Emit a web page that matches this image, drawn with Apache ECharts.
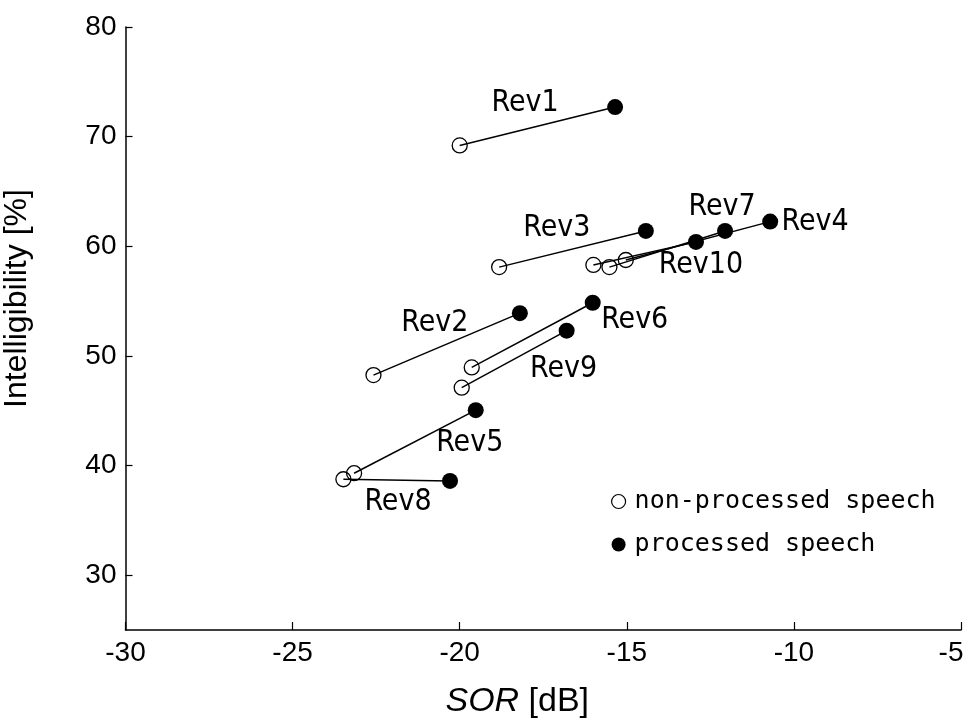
<!DOCTYPE html>
<html>
<head>
<meta charset="utf-8">
<script src="https://cdn.jsdelivr.net/npm/echarts@6/dist/echarts.min.js"></script>
<style>html,body{margin:0;padding:0;background:#fff}#c{width:968px;height:727px}</style>
</head>
<body>
<div id="c"></div>
<script>
var revNames = ['Rev1','Rev2','Rev3','Rev4','Rev5','Rev6','Rev7','Rev8','Rev9','Rev10'];
var sorNonProcessed = [-20.0, -22.58, -18.82, -15.03, -23.16, -19.64, -15.52, -23.48, -19.94, -16.0];
var intNonProcessed = [69.2, 48.25, 58.1, 58.75, 39.3, 48.95, 58.1, 38.75, 47.1, 58.3];
var sorProcessed = [-15.35, -18.2, -14.43, -10.71, -19.52, -16.02, -12.06, -20.29, -16.8, -12.93];
var intProcessed = [72.7, 53.9, 61.4, 62.25, 45.05, 54.85, 61.4, 38.6, 52.3, 60.4];
var xTicks = [-30, -25, -20, -15, -10, -5];
var yTicks = [30, 40, 50, 60, 70, 80];
var legendNames = ['non-processed speech', 'processed speech'];

// label placement (pixel offsets from processed point)
var labelOffsets = [[-90,-4],[-85,10],[-89,-3],[45,1],[-6,33],[42,17],[-3,-24],[-52,21],[-3,39],[5,23]];

var labelFont = 'Liberation Sans Narrow, DejaVu Sans Condensed, Arial Narrow, sans-serif';
var chart = echarts.init(document.getElementById('c'));
var series = [];
revNames.forEach(function(n, i){
  series.push({
    type: 'line', name: n + ' link', silent: true, z: 3,
    data: [[sorNonProcessed[i], intNonProcessed[i]], [sorProcessed[i], intProcessed[i]]],
    symbol: 'none', lineStyle: {color: '#000', width: 1.5}, animation: false
  });
});
series.push({
  type: 'scatter', name: legendNames[0], z: 4, symbol: 'circle', symbolSize: 15,
  itemStyle: {color: 'rgba(0,0,0,0)', borderColor: '#000', borderWidth: 1.3, opacity: 1},
  data: sorNonProcessed.map(function(x, i){ return [x, intNonProcessed[i]]; }),
  animation: false
});
series.push({
  type: 'scatter', name: legendNames[1], z: 5, symbol: 'circle', symbolSize: 16,
  itemStyle: {color: '#000', opacity: 1},
  data: sorProcessed.map(function(x, i){
    return {value: [x, intProcessed[i]], label: {show: true, position: 'inside', offset: labelOffsets[i], formatter: revNames[i],
      color: '#000', textBorderWidth: 0, fontFamily: labelFont, fontSize: 30}};
  }),
  label: {color: '#000', fontFamily: labelFont, fontSize: 30, textBorderWidth: 0},
  animation: false
});

var tickFont = 'Liberation Sans, Arial, sans-serif';
chart.setOption({
  backgroundColor: '#fff',
  animation: false,
  grid: {left: 125.5, right: 7, top: 27, bottom: 97, containLabel: false, outerBoundsMode: 'none'},
  legend: {
    data: [
      {name: legendNames[0], icon: 'circle', itemStyle: {color: 'rgba(0,0,0,0)', borderColor: '#000', borderWidth: 1.2}},
      {name: legendNames[1], icon: 'circle', itemStyle: {color: '#000'}}
    ],
    orient: 'vertical', left: 606, top: 484, itemWidth: 14, itemHeight: 14, itemGap: 18,
    textStyle: {fontFamily: 'DejaVu Sans Mono', fontSize: 25, color: '#000', padding: [0,0,0,4]},
    selectedMode: false
  },
  xAxis: {
    type: 'value', min: xTicks[0], max: xTicks[xTicks.length-1], interval: 5,
    name: '{i|SOR} [dB]', nameLocation: 'middle', nameGap: 55,
    nameTextStyle: {fontFamily: tickFont, fontSize: 34, color: '#000', padding: [0,52,0,0],
      rich: {i: {fontStyle: 'italic', fontFamily: tickFont, fontSize: 34, color: '#000'}}},
    axisLine: {show: true, onZero: false, lineStyle: {color: '#000', width: 1.5}},
    axisTick: {show: true, inside: true, length: 8, lineStyle: {color: '#000', width: 1.2}},
    axisLabel: {fontFamily: tickFont, fontSize: 28, color: '#000', margin: 9,
      formatter: function(v){ return v === xTicks[xTicks.length-1] ? '{m|' + v + '}' : String(v); },
      rich: {m: {fontFamily: tickFont, fontSize: 28, color: '#000', padding: [0,20,0,0]}}},
    splitLine: {show: false}
  },
  yAxis: {
    type: 'value', min: 25, max: yTicks[yTicks.length-1], splitNumber: 5,
    name: 'Intelligibility [%]', nameLocation: 'middle', nameGap: 92,
    nameTextStyle: {fontFamily: tickFont, fontSize: 32, color: '#000', padding: [0,0,0,60]},
    axisLine: {show: true, onZero: false, lineStyle: {color: '#000', width: 1.5}},
    axisTick: {show: true, inside: true, length: 7, lineStyle: {color: '#000', width: 1.2}},
    axisLabel: {fontFamily: tickFont, fontSize: 28, color: '#000', margin: 9, showMinLabel: false,
      formatter: function(v){ return yTicks.indexOf(v) >= 0 ? String(v) : ''; }},
    splitLine: {show: false}
  },
  series: series
});
</script>
</body>
</html>
